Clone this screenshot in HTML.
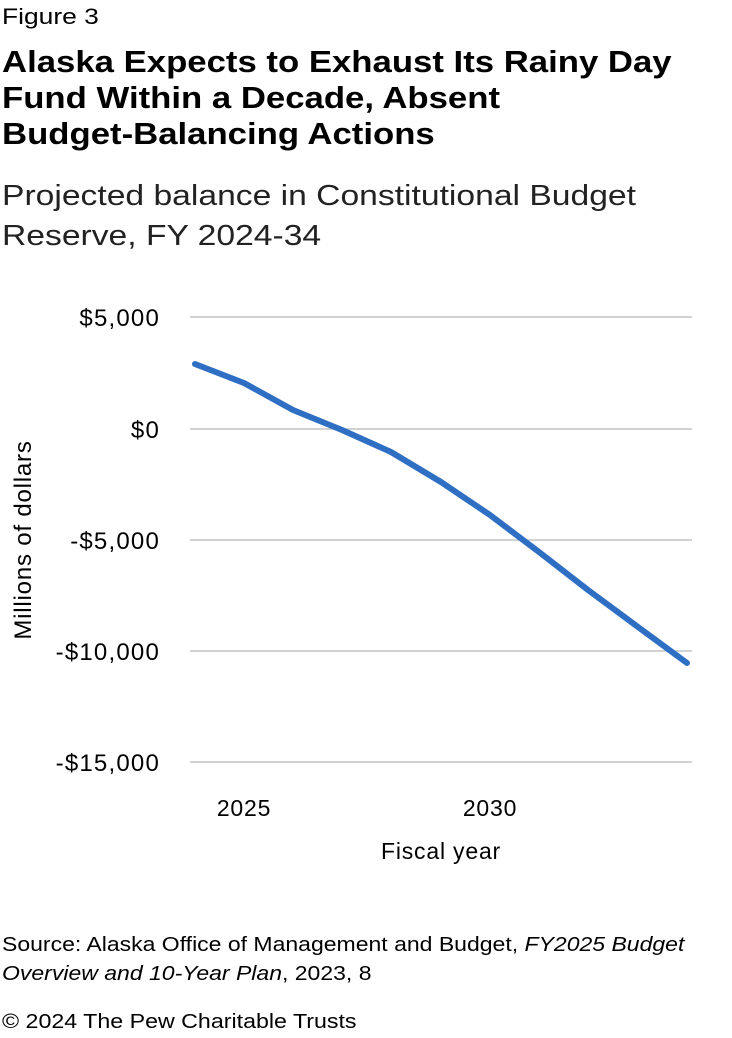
<!DOCTYPE html>
<html><head><meta charset="utf-8"><style>
body{margin:0;width:732px;height:1038px;background:#fff;font-family:"Liberation Sans",sans-serif;color:#000;overflow:hidden;position:relative}
.t{position:absolute;white-space:nowrap;transform-origin:0 0}
</style></head><body>
<div class="t" style="left:2px;top:4px;font-size:22px;transform:scaleX(1.2)">Figure 3</div>
<div class="t" style="left:2px;top:44px;font-size:31px;font-weight:bold;line-height:36px;transform:scaleX(1.12)">Alaska Expects to Exhaust Its Rainy Day<br>Fund Within a Decade, Absent<br>Budget-Balancing Actions</div>
<div class="t" style="left:2px;top:176px;font-size:29px;line-height:40px;color:#222;transform:scaleX(1.16)">Projected balance in Constitutional Budget<br>Reserve, FY 2024-34</div>
<svg style="position:absolute;left:0;top:0" width="732" height="1038">
<g stroke="#b8b8b8" stroke-width="1.3">
<line x1="190" x2="692" y1="317" y2="317"/><line x1="190" x2="692" y1="429" y2="429"/>
<line x1="190" x2="692" y1="540" y2="540"/><line x1="190" x2="692" y1="651" y2="651"/>
<line x1="190" x2="692" y1="762" y2="762"/></g>
<g font-family="Liberation Sans,sans-serif" font-size="24" letter-spacing="1.2" text-anchor="end" fill="#000">
<text x="160" y="326">$5,000</text><text x="160" y="438">$0</text><text x="160" y="549">-$5,000</text>
<text x="160" y="660">-$10,000</text><text x="160" y="771">-$15,000</text></g>
<g font-family="Liberation Sans,sans-serif" font-size="23" letter-spacing="0.8" text-anchor="middle">
<text x="244" y="816">2025</text><text x="490" y="816">2030</text>
<text x="441" y="859">Fiscal year</text>
<text font-size="24" transform="translate(31,540) rotate(-90)">Millions of dollars</text></g>
<polyline fill="none" stroke="#2e6fc4" stroke-width="6" stroke-linejoin="round" stroke-linecap="round"
points="195,364 244,383 293,410 342,430 391,452 441,482 490,515 539,552 588,590 638,627 687,663"/>
</svg>
<div class="t" style="left:2px;top:931px;font-size:20px;line-height:29px;transform:scaleX(1.15)">Source: Alaska Office of Management and Budget, <i>FY2025 Budget</i><br><i>Overview and 10-Year Plan</i>, 2023, 8</div>
<div class="t" style="left:2px;top:1011px;font-size:20px;transform:scaleX(1.16)">© 2024 The Pew Charitable Trusts</div>
</body></html>
